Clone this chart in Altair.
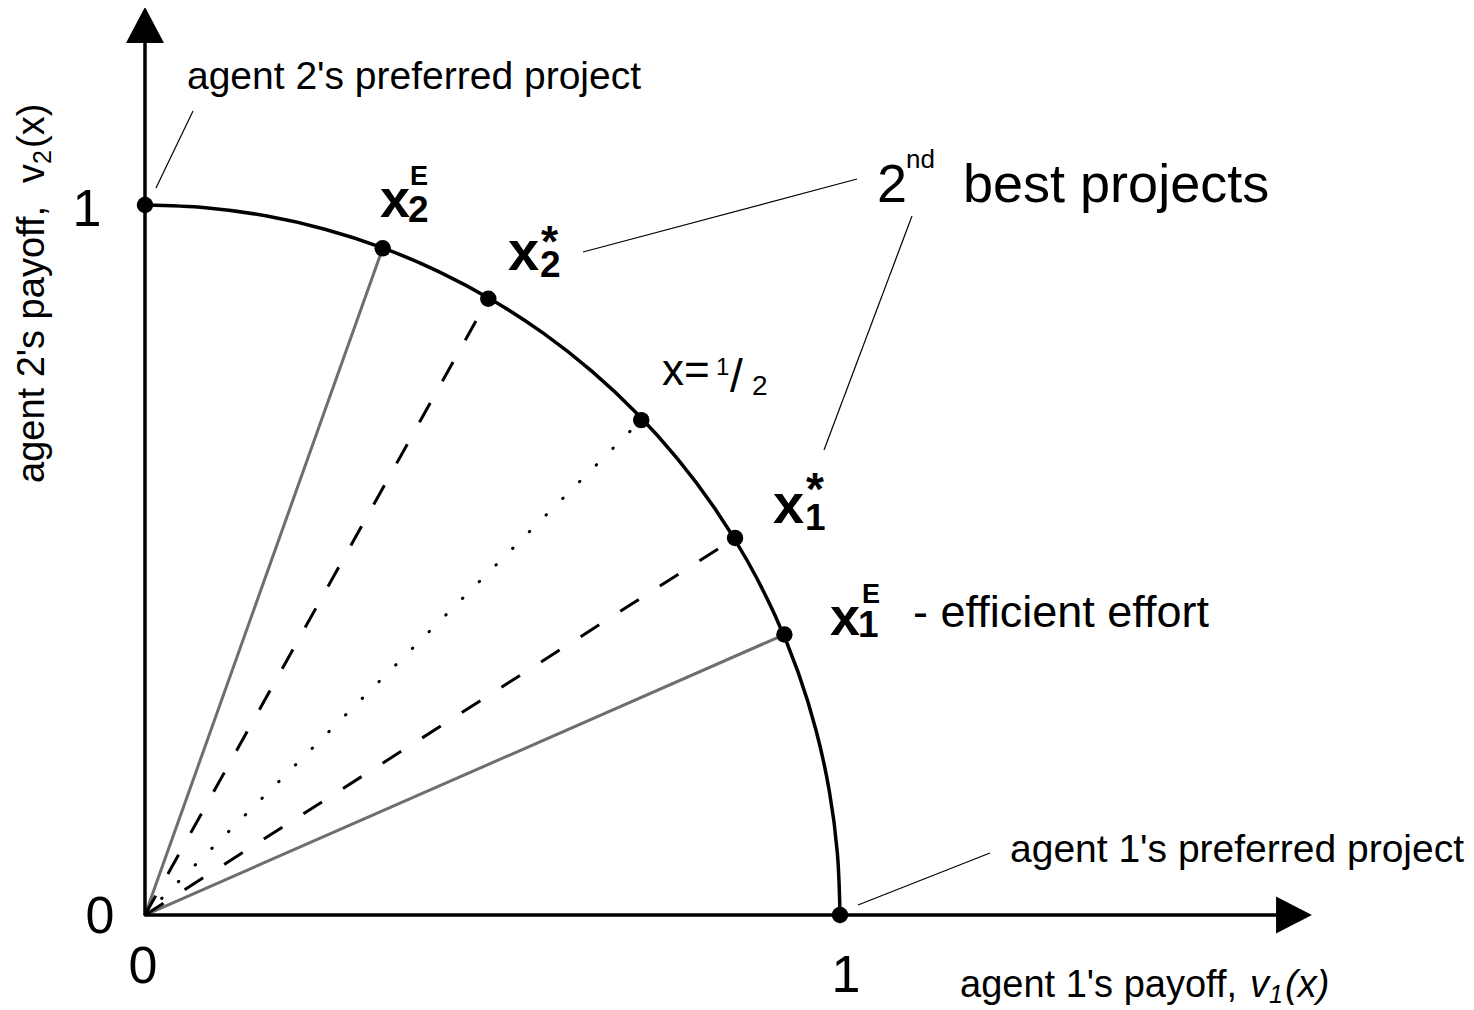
import altair as alt
import pandas as pd

FONT = "Liberation Sans"

# ---------------- data ----------------
# payoff frontier (agent 1's payoff v1, agent 2's payoff v2)
frontier_v1 = [1.0, 0.9962, 0.9848, 0.9659, 0.9397, 0.9063, 0.8660, 0.8192, 0.7660, 0.7071,
               0.6428, 0.5736, 0.5, 0.4226, 0.3420, 0.2588, 0.1736, 0.0872, 0.0]
frontier_v2 = [0.0, 0.0872, 0.1736, 0.2588, 0.3420, 0.4226, 0.5, 0.5736, 0.6428, 0.7071,
               0.7660, 0.8192, 0.8660, 0.9063, 0.9397, 0.9659, 0.9848, 0.9962, 1.0]

# marked projects on the frontier
point_names = ["agent2_pref", "x2E", "x2*", "x=1/2", "x1*", "x1E", "agent1_pref"]
point_v1 = [0.0, 0.342, 0.494, 0.714, 0.849, 0.920, 1.0]
point_v2 = [1.0, 0.939, 0.868, 0.697, 0.531, 0.395, 0.0]

# rays from the origin
solid_rays = ["x2E", "x1E"]
dashed_rays = ["x2*", "x1*"]
dotted_rays = ["x=1/2"]

# ---------------- layout (data units) ----------------
X0, X1 = -0.1971, 1.9007
Y0, Y1 = -0.1338, 1.2775
W, H = 1458, 1002

XS = alt.Scale(domain=[X0, X1], nice=False, zero=False)
YS = alt.Scale(domain=[Y0, Y1], nice=False, zero=False)


def X(f="v1"):
    return alt.X(f"{f}:Q", scale=XS, axis=None)


def Y(f="v2"):
    return alt.Y(f"{f}:Q", scale=YS, axis=None)


pts = pd.DataFrame({"name": point_names, "v1": point_v1, "v2": point_v2})
lookup = {n: (a, b) for n, a, b in zip(point_names, point_v1, point_v2)}


def rays_df(names):
    rows = []
    for n in names:
        rows.append({"ray": n, "k": 0, "v1": 0.0, "v2": 0.0})
        rows.append({"ray": n, "k": 1, "v1": lookup[n][0], "v2": lookup[n][1]})
    return pd.DataFrame(rows)


frontier = pd.DataFrame({"k": list(range(len(frontier_v1))), "v1": frontier_v1, "v2": frontier_v2})

solid = alt.Chart(rays_df(solid_rays)).mark_line(color="#6e6e6e", strokeWidth=3).encode(
    x=X(), y=Y(), detail="ray:N", order=alt.Order("k:Q"))
dashed = alt.Chart(rays_df(dashed_rays)).mark_line(
    color="black", strokeWidth=3, strokeDash=[22, 25]).encode(
    x=X(), y=Y(), detail="ray:N", order=alt.Order("k:Q"))
dotted = alt.Chart(rays_df(dotted_rays)).mark_line(
    color="black", strokeWidth=3, strokeDash=[0.5, 23.1], strokeCap="round").encode(
    x=X(), y=Y(), detail="ray:N", order=alt.Order("k:Q"))

# axes with arrowheads
axes_df = pd.DataFrame({"v1": [0.0, 0.0], "v2": [0.0, 0.0], "e1": [0.0, 1.633], "e2": [1.232, 0.0]})
axes = alt.Chart(axes_df).mark_rule(color="black", strokeWidth=3.5).encode(
    x=X(), y=Y(), x2="e1:Q", y2="e2:Q")
arrow_up = alt.Chart(pd.DataFrame({"v1": [0.0], "v2": [1.2535]})).mark_point(
    shape="M-1,0.95L0,-0.95L1,0.95Z", size=1444, filled=True, color="black",
    opacity=1, strokeWidth=0).encode(x=X(), y=Y())
arrow_right = alt.Chart(pd.DataFrame({"v1": [1.6532], "v2": [0.0]})).mark_point(
    shape="M-0.97,-1L0.97,0L-0.97,1Z", size=1369, filled=True, color="black",
    opacity=1, strokeWidth=0).encode(x=X(), y=Y())

curve = alt.Chart(frontier).mark_line(
    color="black", strokeWidth=3.5, interpolate="catmull-rom").encode(
    x=X(), y=Y(), order=alt.Order("k:Q"))

dots = alt.Chart(pts).mark_circle(size=270, color="black", opacity=1).encode(x=X(), y=Y())

# leader lines
leaders_df = pd.DataFrame({
    "v1": [0.0158, 0.6302, 1.1036, 1.0259],
    "v2": [1.0239, 0.9338, 0.9845, 0.0141],
    "e1": [0.0691, 1.0245, 0.9770, 1.2158],
    "e2": [1.1324, 1.0366, 0.6549, 0.0873],
})
leaders = alt.Chart(leaders_df).mark_rule(color="black", strokeWidth=1.2).encode(
    x=X(), y=Y(), x2="e1:Q", y2="e2:Q")

# ---------------- texts ----------------
regular_texts = pd.DataFrame([
    ("agent 2's preferred project", 0.0604, 1.1634, 39),
    ("agent 1's preferred project", 1.2446, 0.0746, 39),
    ("2", 1.0532, 1.0042, 54),
    ("nd", 1.0950, 1.0521, 26),
    ("best projects", 1.1770, 1.0042, 54),
    ("x=", 0.7439, 0.7465, 44),
    ("1", 0.8216, 0.7606, 24),
    ("/", 0.8417, 0.7366, 46),
    ("2", 0.8734, 0.7324, 28),
    ("- efficient effort", 1.1050, 0.4056, 45),
    ("agent 1's payoff,", 1.1727, -0.1155, 38),
], columns=["t", "v1", "v2", "s"])

italic_texts = pd.DataFrame([
    ("v", 1.5899, -0.1155, 38),
    ("1", 1.6173, -0.1239, 25),
    ("(x)", 1.6403, -0.1155, 38),
], columns=["t", "v1", "v2", "s"])

tick_texts = pd.DataFrame([
    ("0", -0.0647, -0.0254, 52),
    ("0", -0.0029, -0.0958, 52),
    ("1", -0.0835, 0.9704, 52),
    ("1", 1.0086, -0.1085, 52),
], columns=["t", "v1", "v2", "s"])

rot_texts = pd.DataFrame([
    ("agent 2's payoff,", -0.1453, 0.6085, 38),
    ("v", -0.1453, 1.0310, 38),
    ("2", -0.1353, 1.0577, 25),
    ("(x)", -0.1453, 1.0803, 38),
], columns=["t", "v1", "v2", "s"])

bold_texts = pd.DataFrame([
    ("x", 0.3381, 0.9831, 54), ("2", 0.3784, 0.9761, 37), ("E", 0.3813, 1.0282, 27),
    ("x", 0.5223, 0.9085, 56), ("2", 0.5683, 0.8986, 37), ("*", 0.5698, 0.9268, 44),
    ("x", 0.9036, 0.5521, 56), ("1", 0.9496, 0.5423, 37), ("*", 0.9511, 0.5775, 46),
    ("x", 0.9856, 0.3944, 54), ("1", 1.0259, 0.3915, 37), ("E", 1.0317, 0.4394, 27),
], columns=["t", "v1", "v2", "s"])


def text_layer(df, **kw):
    return alt.Chart(df).mark_text(font=FONT, baseline="alphabetic", color="black", **kw).encode(
        x=X(), y=Y(), text="t:N", size=alt.Size("s:Q", scale=None))


texts = [
    text_layer(regular_texts, align="left"),
    text_layer(italic_texts, align="left", fontStyle="italic"),
    text_layer(tick_texts, align="center"),
    text_layer(rot_texts, align="left", angle=270),
    text_layer(bold_texts, align="left", fontWeight="bold"),
]

chart = alt.layer(
    solid, dashed, dotted, axes, arrow_up, arrow_right, curve, dots, leaders, *texts
).properties(
    width=W, height=H, padding=0, autosize=alt.AutoSizeParams(type="none"),
    background="white",
).configure_view(strokeWidth=0)

chart.save("out.html", embed_options={"renderer": "svg", "actions": False})
